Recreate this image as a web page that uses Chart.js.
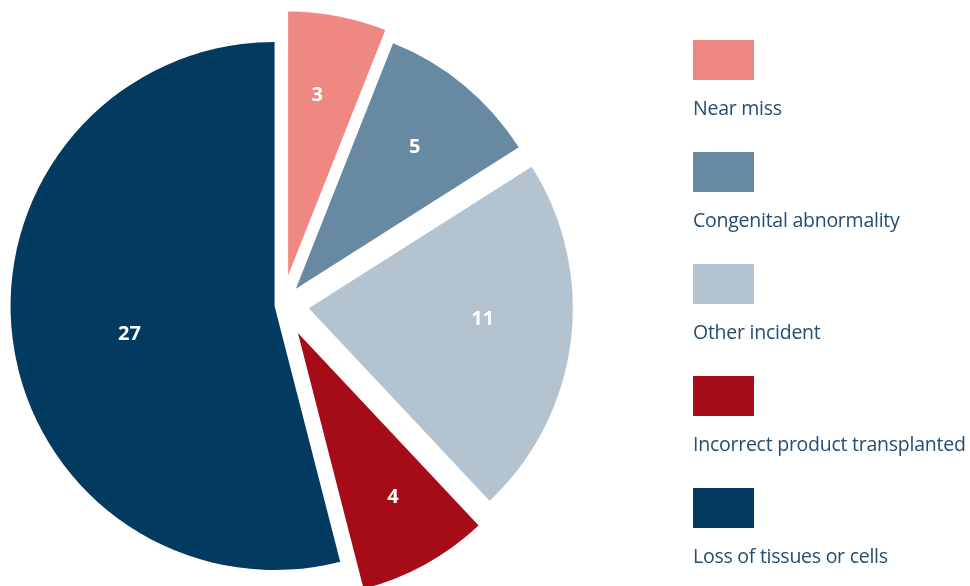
<!DOCTYPE html>
<html>
<head>
<meta charset="utf-8">
<script src="https://cdn.jsdelivr.net/npm/chart.js@4.4.0/dist/chart.umd.min.js"></script>
<style>
  html, body { margin: 0; padding: 0; background: #fff; overflow: hidden; }
  body { width: 970px; height: 586px; position: relative; }
  #chartBox { position: absolute; left: 0; top: 0; width: 970px; height: 610px; }
  #legend { position: absolute; left: 693px; top: 40px; font-family: "Open Sans", sans-serif; }
  .item { position: relative; height: 112px; }
  .swatch { width: 61px; height: 40px; }
  .name { margin-top: 16px; font-size: 19.5px; letter-spacing: -0.25px; line-height: 24px; color: #234e72; white-space: nowrap; }
</style>
</head>
<body>
<div id="chartBox"><canvas id="pie"></canvas></div>
<div id="legend"></div>
<script>
const categories = ['Near miss', 'Congenital abnormality', 'Other incident', 'Incorrect product transplanted', 'Loss of tissues or cells'];
const incidents = [3, 5, 11, 4, 27];
const sliceColours = ['#ef8882', '#6789a2', '#b3c3d0', '#a60c18', '#033a60'];

// how far each slice is pulled out from the centre (arc moves offset/4 px)
const sliceOffsets = [120, 84, 106, 128, 32];
// where the value sits in each slice: fraction of the radius, and a small turn in degrees
const labelDepth = [0.69, 0.70, 0.66, 0.72, 0.56];
const labelTurn = [-1.6, 0.4, -3.7, -1.2, -3.8];
const PIE_RADIUS = 264;

// exploded arcs grow and narrow a little in Chart.js; undo that so every
// slice keeps one radius and its full angle
const evenRadius = {
  id: 'evenRadius',
  afterDatasetUpdate(chart, args) {
    args.meta.data.forEach((arc) => {
      const shift = (arc.options.offset || 0) / 4;
      const fix = 1 - Math.sin(Math.min(Math.PI, arc.circumference));
      const grow = shift * fix;
      arc.outerRadius = PIE_RADIUS - grow;
      const trim = grow / (2 * Math.PI * PIE_RADIUS);
      arc.startAngle -= trim;
      arc.endAngle += trim;
    });
  }
};

const sliceLabels = {
  id: 'sliceLabels',
  afterDatasetsDraw(chart) {
    const ctx = chart.ctx;
    const meta = chart.getDatasetMeta(0);
    ctx.save();
    ctx.font = '700 20px "Open Sans"';
    ctx.fillStyle = '#ffffff';
    ctx.textAlign = 'center';
    ctx.textBaseline = 'middle';
    meta.data.forEach((arc, i) => {
      const mid = (arc.startAngle + arc.endAngle) / 2;
      const shift = (arc.options.offset || 0) / 4;
      // apex of the pulled-out slice
      const ax = arc.x + Math.cos(mid) * shift;
      const ay = arc.y + Math.sin(mid) * shift;
      const a = mid + labelTurn[i] * Math.PI / 180;
      const r = PIE_RADIUS * labelDepth[i];
      ctx.fillText(String(incidents[i]), ax + Math.cos(a) * r, ay + Math.sin(a) * r);
    });
    ctx.restore();
  }
};

const ctx = document.getElementById('pie').getContext('2d');
const pieChart = new Chart(ctx, {
  type: 'pie',
  data: {
    labels: categories,
    datasets: [{
      data: incidents,
      backgroundColor: sliceColours,
      borderWidth: 0,
      offset: sliceOffsets,
      clip: false
    }]
  },
  options: {
    responsive: true,
    maintainAspectRatio: false,
    animation: false,
    events: [],
    radius: PIE_RADIUS,
    layout: { padding: { left: 0, top: 0, right: 405, bottom: 0 } },
    plugins: {
      legend: { display: false },
      tooltip: { enabled: false }
    }
  },
  plugins: [evenRadius, sliceLabels]
});

// legend: colour block with the category name underneath
const legend = document.getElementById('legend');
categories.forEach((name, i) => {
  const item = document.createElement('div');
  item.className = 'item';
  const swatch = document.createElement('div');
  swatch.className = 'swatch';
  swatch.style.background = sliceColours[i];
  const text = document.createElement('div');
  text.className = 'name';
  text.textContent = name;
  item.appendChild(swatch);
  item.appendChild(text);
  legend.appendChild(item);
});
</script>
</body>
</html>
